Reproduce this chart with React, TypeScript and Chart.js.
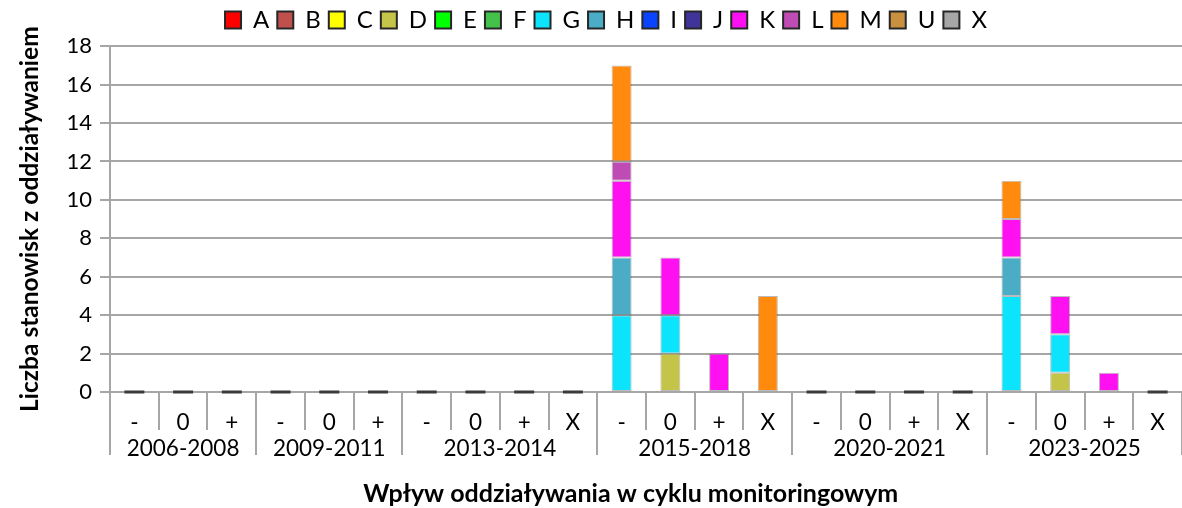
import React, { useEffect, useRef } from 'react';
import { Chart, registerables } from 'chart.js';

Chart.register(...registerables);

const impactLabels = ['-', '0', '+', '-', '0', '+', '-', '0', '+', 'X', '-', '0', '+', 'X', '-', '0', '+', 'X', '-', '0', '+', 'X'];
const groupLabels = ['2006-2008', '2009-2011', '2013-2014', '2015-2018', '2020-2021', '2023-2025'];
const groupSizes = [3, 3, 4, 4, 4, 4];

const seriesNames = ['A', 'B', 'C', 'D', 'E', 'F', 'G', 'H', 'I', 'J', 'K', 'L', 'M', 'U', 'X'];
const seriesColors = ['#ff0000', '#c0504d', '#ffff00', '#c4c448', '#00ff00', '#44c14a', '#0ce3fc', '#4bacc6', '#0a44ff', '#403399', '#ff10f0', '#bf4cb4', '#ff8a0d', '#c8903f', '#a6a6a6'];

const valuesA = [0, 0, 0, 0, 0, 0, 0, 0, 0, 0, 0, 0, 0, 0, 0, 0, 0, 0, 0, 0, 0, 0];
const valuesB = [0, 0, 0, 0, 0, 0, 0, 0, 0, 0, 0, 0, 0, 0, 0, 0, 0, 0, 0, 0, 0, 0];
const valuesC = [0, 0, 0, 0, 0, 0, 0, 0, 0, 0, 0, 0, 0, 0, 0, 0, 0, 0, 0, 0, 0, 0];
const valuesD = [0, 0, 0, 0, 0, 0, 0, 0, 0, 0, 0, 2, 0, 0, 0, 0, 0, 0, 0, 1, 0, 0];
const valuesE = [0, 0, 0, 0, 0, 0, 0, 0, 0, 0, 0, 0, 0, 0, 0, 0, 0, 0, 0, 0, 0, 0];
const valuesF = [0, 0, 0, 0, 0, 0, 0, 0, 0, 0, 0, 0, 0, 0, 0, 0, 0, 0, 0, 0, 0, 0];
const valuesG = [0, 0, 0, 0, 0, 0, 0, 0, 0, 0, 4, 2, 0, 0, 0, 0, 0, 0, 5, 2, 0, 0];
const valuesH = [0, 0, 0, 0, 0, 0, 0, 0, 0, 0, 3, 0, 0, 0, 0, 0, 0, 0, 2, 0, 0, 0];
const valuesI = [0, 0, 0, 0, 0, 0, 0, 0, 0, 0, 0, 0, 0, 0, 0, 0, 0, 0, 0, 0, 0, 0];
const valuesJ = [0, 0, 0, 0, 0, 0, 0, 0, 0, 0, 0, 0, 0, 0, 0, 0, 0, 0, 0, 0, 0, 0];
const valuesK = [0, 0, 0, 0, 0, 0, 0, 0, 0, 0, 4, 3, 2, 0, 0, 0, 0, 0, 2, 2, 1, 0];
const valuesL = [0, 0, 0, 0, 0, 0, 0, 0, 0, 0, 1, 0, 0, 0, 0, 0, 0, 0, 0, 0, 0, 0];
const valuesM = [0, 0, 0, 0, 0, 0, 0, 0, 0, 0, 5, 0, 0, 5, 0, 0, 0, 0, 2, 0, 0, 0];
const valuesU = [0, 0, 0, 0, 0, 0, 0, 0, 0, 0, 0, 0, 0, 0, 0, 0, 0, 0, 0, 0, 0, 0];
const valuesX = [0, 0, 0, 0, 0, 0, 0, 0, 0, 0, 0, 0, 0, 0, 0, 0, 0, 0, 0, 0, 0, 0];

const seriesValues = [valuesA, valuesB, valuesC, valuesD, valuesE, valuesF, valuesG, valuesH, valuesI, valuesJ, valuesK, valuesL, valuesM, valuesU, valuesX];

const yTitle = 'Liczba stanowisk z oddziaływaniem';
const xTitle = 'Wpływ oddziaływania w cyklu monitoringowym' + '\u00a0'.repeat(5);

const FONT = 'Lato';

const axisDecorPlugin = {
  id: 'axisDecor',
  afterDraw(chart: any) {
    const ctx = chart.ctx;
    const xs = chart.scales.x;
    const ys = chart.scales.y;
    const y0 = ys.getPixelForValue(0);
    const n = impactLabels.length;
    const boundary = (k: number) => {
      if (k === 0) return xs.left;
      if (k === n) return xs.right;
      return (xs.getPixelForValue(k - 1) + xs.getPixelForValue(k)) / 2;
    };
    const groupEdges = [0];
    groupSizes.forEach((s) => groupEdges.push(groupEdges[groupEdges.length - 1] + s));
    ctx.save();
    // zero markers for empty categories
    const meta = chart.getDatasetMeta(0);
    for (let i = 0; i < n; i++) {
      let total = 0;
      seriesValues.forEach((arr) => (total += arr[i]));
      if (total === 0) {
        const el = meta.data[i];
        const w = el.width;
        ctx.fillStyle = '#3a3a3a';
        ctx.fillRect(el.x - w / 2, y0 - 1.5, w, 3);
      }
    }
    // separators
    ctx.strokeStyle = '#a6a6a6';
    ctx.lineWidth = 2;
    for (let k = 0; k <= n; k++) {
      const x = Math.round(boundary(k));
      const long = groupEdges.includes(k);
      ctx.beginPath();
      ctx.moveTo(x, y0);
      ctx.lineTo(x, y0 + (long ? 63 : 38));
      ctx.stroke();
    }
    // group labels
    ctx.fillStyle = '#000';
    ctx.font = `22.5px ${FONT}`;
    ctx.textAlign = 'center';
    ctx.textBaseline = 'middle';
    groupLabels.forEach((g, gi) => {
      const a = groupEdges[gi];
      const b = groupEdges[gi + 1] - 1;
      const cx = (xs.getPixelForValue(a) + xs.getPixelForValue(b)) / 2;
      ctx.fillText(g, cx, y0 + 57);
    });
    ctx.restore();
  },
};

export default function App() {
  const ref = useRef<HTMLCanvasElement | null>(null);

  useEffect(() => {
    if (!ref.current) return;
    Chart.defaults.font.family = FONT;
    Chart.defaults.font.size = 22;
    Chart.defaults.color = '#000';
    const datasets = seriesNames.map((name, i) => ({
      label: name,
      data: seriesValues[i],
      backgroundColor: seriesColors[i],
      borderColor: 'rgba(60,60,60,0.35)',
      borderWidth: 1,
      borderSkipped: false as const,
      barPercentage: 1,
      categoryPercentage: 0.41,
    }));
    const chart = new Chart(ref.current, {
      type: 'bar',
      data: { labels: impactLabels, datasets },
      plugins: [axisDecorPlugin],
      options: {
        animation: false,
        responsive: false,
        layout: { padding: { left: 28, right: -2, top: 0, bottom: 0 } },
        plugins: {
          tooltip: { enabled: false },
          title: {
            display: true,
            text: '',
            weight: 500,
            font: { size: 1 },
            padding: { top: 1, bottom: 2 },
          },
          legend: {
            position: 'top',
            labels: {
              boxWidth: 16,
              boxHeight: 17,
              padding: 8,
              color: '#000',
              font: { size: 24, family: FONT },
              generateLabels: (c: any) =>
                Chart.defaults.plugins.legend.labels.generateLabels(c).map((l: any) => ({
                  ...l,
                  strokeStyle: '#262626',
                  lineWidth: 2,
                })),
            },
          },
        },
        scales: {
          x: {
            stacked: true,
            offset: true,
            grid: { display: false, drawTicks: false, tickLength: 0 },
            border: { display: false },
            ticks: { autoSkip: false, maxRotation: 0, padding: 17, color: '#000', font: { size: 22.5 } },
            title: {
              display: true,
              text: xTitle,
              color: '#000',
              font: { size: 25, weight: 'bold', lineHeight: 1 },
              padding: { top: 0, bottom: 1.5 },
            },
            afterFit: (s: any) => {
              s.height = 116;
            },
          },
          y: {
            stacked: true,
            min: 0,
            max: 18,
            ticks: { stepSize: 2, padding: 8, color: '#000', font: { size: 22 } },
            grid: { color: '#a6a6a6', lineWidth: 2, tickLength: 10 },
            border: { display: true, color: '#a6a6a6', width: 2 },
            title: {
              display: true,
              text: yTitle,
              color: '#000',
              font: { size: 24.5, weight: 'bold', lineHeight: 1.2 },
              padding: { top: -12.7, bottom: 0 },
            },
            afterFit: (s: any) => {
              s.width = 82;
            },
          },
        },
      },
    } as any);
    return () => chart.destroy();
  }, []);

  return (
    <div style={{ position: 'fixed', left: 0, top: 0, width: 1182, height: 508, background: '#fff' }}>
      <canvas ref={ref} width={1182} height={508} style={{ width: 1182, height: 508, display: 'block' }} />
    </div>
  );
}
